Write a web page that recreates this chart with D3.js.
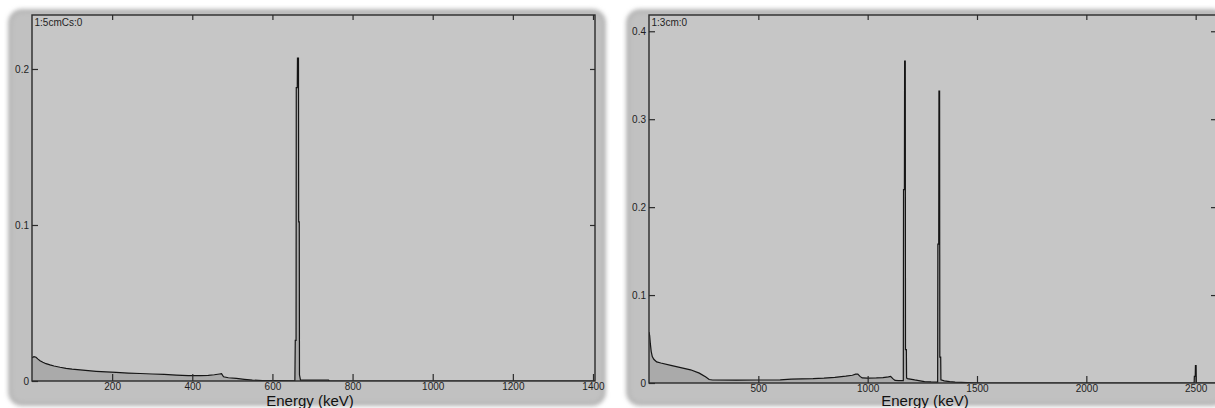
<!DOCTYPE html>
<html>
<head>
<meta charset="utf-8">
<script src="https://cdn.jsdelivr.net/npm/d3@7"></script>
<style>
  html, body { margin: 0; padding: 0; background: #ffffff; }
  svg { display: block; }
</style>
</head>
<body>
<svg id="chart" width="1215" height="408"></svg>
<script>
// ---- data ----
const leftTitle = "1:5cmCs:0"
const leftEnergy = [0, 5, 10, 15, 20, 27, 35, 45, 55, 70, 85, 100, 120, 140, 160, 185, 210, 240, 270, 300,
                    330, 360, 390, 420, 440, 455, 468, 473, 478, 490, 510, 530, 550, 575, 600, 656,
                    657, 659, 659.5, 662, 662.5, 665, 665.5, 667, 667.5, 670, 740, 742, 1405]
const leftCounts = [0.0150, 0.0156, 0.0152, 0.0140, 0.0130, 0.0120, 0.0111, 0.0103, 0.0096, 0.0088, 0.0081, 0.0076, 0.0071, 0.0066, 0.0062, 0.0058, 0.0055, 0.0051, 0.0048, 0.0045,
                    0.0042, 0.0038, 0.0035, 0.0034, 0.0036, 0.0040, 0.0045, 0.0047, 0.0027, 0.0021, 0.0017, 0.0011, 0.0006, 0.0003, 0.0002, 0.0001,
                    0.026, 0.026, 0.188, 0.188, 0.207, 0.207, 0.102, 0.102, 0.004, 0.0006, 0.0005, 0, 0]
const leftXTicks = [200, 400, 600, 800, 1000, 1200, 1400]
const leftYTicks = [0, 0.1, 0.2]

const rightTitle = "1:3cm:0"
const rightEnergy = [0, 3, 6, 10, 15, 22, 35, 54, 100, 150, 190, 230, 260, 275, 290,
                     400, 500, 600, 650, 700, 750, 800, 850, 900, 930, 945, 955, 965, 975, 1000, 1040, 1070, 1095, 1105, 1115, 1125, 1140, 1163,
                     1164, 1168, 1169, 1172, 1173, 1177, 1178, 1182, 1195, 1215, 1240, 1260, 1290, 1320,
                     1321, 1325, 1326, 1329, 1330, 1334, 1335, 1350, 1375, 1400, 1510,
                     2493, 2494, 2498, 2499, 2502, 2503, 2590]
const rightCounts = [0.058, 0.054, 0.045, 0.036, 0.030, 0.027, 0.0240, 0.0227, 0.0200, 0.0172, 0.0150, 0.0112, 0.0068, 0.0040, 0.0034,
                     0.0033, 0.0034, 0.0035, 0.0045, 0.0048, 0.0050, 0.0055, 0.0065, 0.0078, 0.0088, 0.0100, 0.0102, 0.0075, 0.0058, 0.0055, 0.0058, 0.0062, 0.0070, 0.0076, 0.0050, 0.0030, 0.0026, 0.0026,
                     0.220, 0.220, 0.366, 0.366, 0.038, 0.038, 0.0057, 0.0050, 0.0045, 0.0035, 0.0025, 0.0015, 0.0012, 0.0011,
                     0.158, 0.158, 0.332, 0.332, 0.0295, 0.0295, 0.0037, 0.0025, 0.0015, 0.0010, 0,
                     0, 0.0075, 0.0075, 0.0197, 0.0197, 0, 0]
const rightXTicks = [500, 1000, 1500, 2000, 2500]
const rightYTicks = [0, 0.1, 0.2, 0.3, 0.4]

const xLabel = "Energy (keV)"

// ---- layout ----
const panels = [
  {
    box: {x: 8, y: 9, width: 598, height: 397},
    plot: {left: 32, right: 595, top: 15, bottom: 381},
    xDomain: [0, 1405], yDomain: [0, 0.2346],
    energy: leftEnergy, counts: leftCounts,
    xTicks: leftXTicks, yTicks: leftYTicks, title: leftTitle,
    labelX: 310,
  },
  {
    box: {x: 626, y: 9, width: 600, height: 397},
    plot: {left: 649, right: 1216, top: 15, bottom: 383},
    xDomain: [0, 2593], yDomain: [0, 0.4185],
    energy: rightEnergy, counts: rightCounts,
    xTicks: rightXTicks, yTicks: rightYTicks, title: rightTitle,
    labelX: 925,
  },
]

const font = "'Liberation Sans', Arial, sans-serif"
const svg = d3.select("#chart")

const defs = svg.append("defs")
defs.append("filter")
  .attr("id", "soft")
  .attr("x", "-5%").attr("y", "-5%").attr("width", "110%").attr("height", "110%")
  .append("feGaussianBlur")
  .attr("stdDeviation", 2.2)

panels.forEach(function(p, i) {
  const g = svg.append("g")

  // panel background
  g.append("rect")
    .attr("x", p.box.x).attr("y", p.box.y)
    .attr("width", p.box.width).attr("height", p.box.height)
    .attr("rx", 14)
    .attr("fill", "#b7b7b7")
    .attr("filter", "url(#soft)")
  g.append("rect")
    .attr("x", p.box.x + 4).attr("y", p.box.y + 4)
    .attr("width", p.box.width - 8).attr("height", p.box.height - 8)
    .attr("rx", 11)
    .attr("fill", "#c1c1c1")
    .attr("filter", "url(#soft)")

  const xScale = d3.scaleLinear()
    .domain(p.xDomain)
    .range([p.plot.left, p.plot.right])

  const yScale = d3.scaleLinear()
    .domain(p.yDomain)
    .range([p.plot.bottom, p.plot.top])

  // plot area
  g.append("rect")
    .attr("x", p.plot.left).attr("y", p.plot.top)
    .attr("width", p.plot.right - p.plot.left)
    .attr("height", p.plot.bottom - p.plot.top)
    .attr("fill", "#c6c6c6")

  defs.append("clipPath")
    .attr("id", "clip" + i)
    .append("rect")
    .attr("x", p.plot.left).attr("y", p.plot.top)
    .attr("width", p.plot.right - p.plot.left)
    .attr("height", p.plot.bottom - p.plot.top)

  const data = p.energy.map((e, k) => ({e: e, v: p.counts[k]}))

  const area = d3.area()
    .x(d => xScale(d.e))
    .y0(yScale(0))
    .y1(d => yScale(d.v))

  const line = d3.line()
    .x(d => xScale(d.e))
    .y(d => yScale(d.v))

  const spectrum = g.append("g").attr("clip-path", "url(#clip" + i + ")")
  spectrum.append("path")
    .datum(data)
    .attr("d", area)
    .attr("fill", "#aaaaaa")
  spectrum.append("path")
    .datum(data)
    .attr("d", line)
    .attr("fill", "none")
    .attr("stroke", "#151515")
    .attr("stroke-width", 1.2)

  // axes (ticks point into the plot)
  const bottomAxis = d3.axisBottom(xScale)
    .tickValues(p.xTicks)
    .tickSize(-7)
    .tickPadding(2)
    .tickFormat(d3.format("d"))
  const topAxis = d3.axisTop(xScale)
    .tickValues(p.xTicks)
    .tickSize(-5)
    .tickFormat("")
  const leftAxis = d3.axisLeft(yScale)
    .tickValues(p.yTicks)
    .tickSize(-6)
    .tickPadding(3)
    .tickFormat(d => d === 0 ? "0" : d3.format(".1f")(d))
  const rightAxis = d3.axisRight(yScale)
    .tickValues(p.yTicks.filter(d => d > 0))
    .tickSize(-5)
    .tickFormat("")

  const axes = [
    g.append("g").attr("transform", `translate(0,${p.plot.bottom})`).call(bottomAxis),
    g.append("g").attr("transform", `translate(0,${p.plot.top})`).call(topAxis),
    g.append("g").attr("transform", `translate(${p.plot.left},0)`).call(leftAxis),
    g.append("g").attr("transform", `translate(${p.plot.right},0)`).call(rightAxis),
  ]
  axes.forEach(function(a) {
    a.select(".domain").remove()
    a.selectAll(".tick line").attr("stroke", "#2a2a2a").attr("stroke-width", 1.2)
    a.selectAll("text")
      .attr("fill", "#1e1e1e")
      .style("font-family", font)
      .style("font-size", "10px")
  })

  // frame
  g.append("rect")
    .attr("x", p.plot.left).attr("y", p.plot.top)
    .attr("width", p.plot.right - p.plot.left)
    .attr("height", p.plot.bottom - p.plot.top)
    .attr("fill", "none")
    .attr("stroke", "#2a2a2a")
    .attr("stroke-width", 1.4)

  g.append("text")
    .text(p.title)
    .attr("x", p.plot.left + 2.5)
    .attr("y", p.plot.top + 10.5)
    .attr("fill", "#1e1e1e")
    .style("font-family", font)
    .style("font-size", "10px")

  g.append("text")
    .text(xLabel)
    .attr("x", p.labelX)
    .attr("y", 406)
    .attr("text-anchor", "middle")
    .attr("fill", "#111111")
    .style("font-family", font)
    .style("font-size", "15px")
})
</script>
</body>
</html>
